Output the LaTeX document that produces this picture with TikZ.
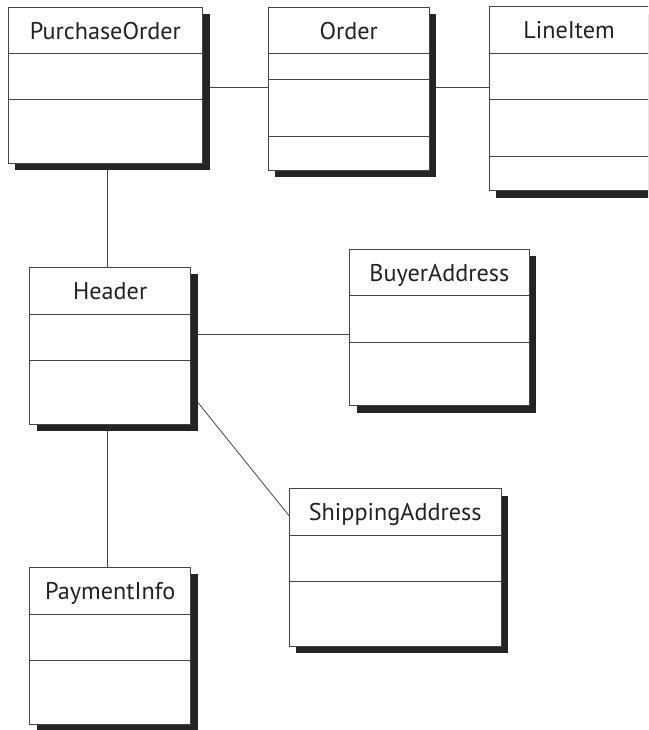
\documentclass[tikz,border=0pt]{standalone}
\usepackage{fontspec}
\setmainfont{PT Sans}
\usetikzlibrary{shadows,calc}
\definecolor{edgec}{HTML}{444444}
\definecolor{shadec}{HTML}{242424}
\definecolor{inkc}{HTML}{222222}
\tikzset{
  classbox/.style={draw=edgec, line width=0.9pt, fill=white, rectangle, inner sep=0pt, outer sep=0pt,
    anchor=north west,
    drop shadow={shadow xshift=7pt, shadow yshift=-7pt, fill=shadec, opacity=1, draw=none}},
  comp/.style={draw=edgec, line width=0.9pt},
  conn/.style={draw=edgec, line width=0.8pt},
  ttl/.style={anchor=base, inner sep=0pt, text=inkc, font=\fontsize{24.2}{27}\selectfont}
}
\begin{document}
\begin{tikzpicture}[x=1pt,y=-1pt]
\useasboundingbox (0,0) rectangle (648,730);
\clip (0,0) rectangle (648,730);
% boxes
\node[classbox, minimum width=194.7pt, minimum height=156pt] (po) at (8,7.3) {};
\node[classbox, minimum width=161pt, minimum height=162.7pt] (ord) at (268.3,7.3) {};
\node[classbox, minimum width=160pt, minimum height=184pt] (li) at (489,6.7) {};
\node[classbox, minimum width=161pt, minimum height=157pt] (hdr) at (29.7,267.3) {};
\node[classbox, minimum width=179.3pt, minimum height=156.7pt] (ba) at (349.7,249) {};
\node[classbox, minimum width=211.7pt, minimum height=157.3pt] (sa) at (289.3,488.7) {};
\node[classbox, minimum width=161pt, minimum height=157pt] (pi) at (29.7,567.3) {};
% titles
\node[ttl] (poT) at ([yshift=-32pt]po.north) {PurchaseOrder};
\node[ttl] (ordT) at ([yshift=-32pt]ord.north) {Order};
\node[ttl] (liT) at ([yshift=-32pt]li.north) {LineItem};
\node[ttl] (hdrT) at ([yshift=-32pt]hdr.north) {Header};
\node[ttl] (baT) at ([yshift=-32pt]ba.north) {BuyerAddress};
\node[ttl] (saT) at ([yshift=-32pt]sa.north) {ShippingAddress};
\node[ttl] (piT) at ([yshift=-32pt]pi.north) {PaymentInfo};
% compartments
\draw[comp] ([yshift=-46pt]po.north west) -- ([yshift=-46pt]po.north east);
\draw[comp] ([yshift=-92pt]po.north west) -- ([yshift=-92pt]po.north east);
\draw[comp] ([yshift=-46pt]ord.north west) -- ([yshift=-46pt]ord.north east);
\draw[comp] ([yshift=-72pt]ord.north west) -- ([yshift=-72pt]ord.north east);
\draw[comp] ([yshift=-129.4pt]ord.north west) -- ([yshift=-129.4pt]ord.north east);
\draw[comp] ([yshift=-46.6pt]li.north west) -- ([yshift=-46.6pt]li.north east);
\draw[comp] ([yshift=-92.6pt]li.north west) -- ([yshift=-92.6pt]li.north east);
\draw[comp] ([yshift=-149.3pt]li.north west) -- ([yshift=-149.3pt]li.north east);
\draw[comp] ([yshift=-46.7pt]hdr.north west) -- ([yshift=-46.7pt]hdr.north east);
\draw[comp] ([yshift=-93.4pt]hdr.north west) -- ([yshift=-93.4pt]hdr.north east);
\draw[comp] ([yshift=-46.3pt]ba.north west) -- ([yshift=-46.3pt]ba.north east);
\draw[comp] ([yshift=-93pt]ba.north west) -- ([yshift=-93pt]ba.north east);
\draw[comp] ([yshift=-46.6pt]sa.north west) -- ([yshift=-46.6pt]sa.north east);
\draw[comp] ([yshift=-93pt]sa.north west) -- ([yshift=-93pt]sa.north east);
\draw[comp] ([yshift=-46.7pt]pi.north west) -- ([yshift=-46.7pt]pi.north east);
\draw[comp] ([yshift=-93.4pt]pi.north west) -- ([yshift=-93.4pt]pi.north east);
% connectors
\draw[conn] ([xshift=7pt,yshift=-2pt]po.east) -- ([yshift=-2pt]po.east -| ord.west);
\draw[conn] ([xshift=7pt,yshift=1.3pt]ord.east) -- ([yshift=1.3pt]ord.east -| li.west);
\draw[conn] ([xshift=1.7pt,yshift=-7pt]po.south) -- ([xshift=1.7pt]po.south |- hdr.north);
\draw[conn] ([xshift=-3.2pt,yshift=-7pt]hdr.south) -- ([xshift=-3.2pt]hdr.south |- pi.north);
\draw[conn] ([xshift=7pt,yshift=11.8pt]hdr.east) -- ([yshift=11.8pt]hdr.east -| ba.west);
\draw[conn] ([xshift=7pt,yshift=22pt]hdr.south east) -- ([yshift=-27.3pt]sa.north west);
\end{tikzpicture}
\end{document}
